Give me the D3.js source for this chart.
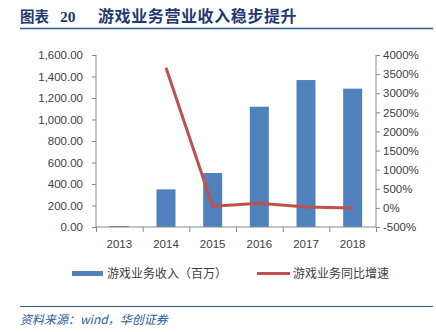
<!DOCTYPE html>
<html><head><meta charset="utf-8">
<script src="https://cdn.jsdelivr.net/npm/d3@7"></script>
<style>body{margin:0;background:#fff;}svg{display:block;}</style>
</head><body>
<svg id="c" width="436" height="332"></svg>
<script>
const years = ["2013","2014","2015","2016","2017","2018"];
const revenue = [9.3, 350, 502, 1119, 1367, 1287];
const growth = [null, 3665, 43, 123, 22, -6];
const leftTicks = [0,200,400,600,800,1000,1200,1400,1600];
const rightTicks = [-500,0,500,1000,1500,2000,2500,3000,3500,4000];

const svg = d3.select("#c");
const L = 96, R = 376, T = 55, B = 227;
const cjk = "'Noto Sans CJK SC', sans-serif";
const num = "'Liberation Sans', Arial, sans-serif";
const axisCol = "#898989", txtCol = "#404040";

// title
const tt = svg.append("text").attr("y",22).attr("fill","#1F3A6E")
  .attr("font-family",cjk).attr("font-weight","bold");
tt.append("tspan").attr("x",20).attr("font-size",14.5).text("图表");
tt.append("tspan").attr("x",60).attr("font-size",15.5)
  .attr("font-family","'Liberation Serif', serif").text("20");
tt.append("tspan").attr("x",98).attr("font-size",16).attr("letter-spacing",0.6)
  .text("游戏业务营业收入稳步提升");
svg.append("line").attr("x1",20).attr("x2",433).attr("y1",28.5).attr("y2",28.5)
  .attr("stroke","#2E5B9A").attr("stroke-width",1.5);

const xc = d3.scalePoint().domain(years).range([L,R]).padding(0.5);
const yL = d3.scaleLinear().domain([0,1600]).range([B,T]);
const yR = d3.scaleLinear().domain([-500,4000]).range([B,T]);

// bars
svg.append("g").selectAll("rect").data(years).join("rect")
  .attr("x",d=>xc(d)-9.5).attr("width",19)
  .attr("y",(d,i)=>yL(revenue[i])).attr("height",(d,i)=>B-yL(revenue[i]))
  .attr("fill","#4F81BD");

// axes
const gl = svg.append("g").attr("transform",`translate(${L},0)`)
  .call(d3.axisLeft(yL).tickValues(leftTicks).tickSize(4).tickPadding(9)
    .tickFormat(d=>d3.format(",.2f")(d)));
const gr = svg.append("g").attr("transform",`translate(${R},0)`)
  .call(d3.axisRight(yR).tickValues(rightTicks).tickSize(4).tickPadding(3)
    .tickFormat(d=>d+"%"));
const xAxisScale = d3.scaleLinear().domain([0,6]).range([L,R]);
const gx = svg.append("g").attr("transform",`translate(0,${B})`)
  .call(d3.axisBottom(xAxisScale).tickValues([0,1,2,3,4,5,6]).tickSize(5).tickFormat(""));
gx.append("g").selectAll("text").data(years).join("text")
  .attr("x",d=>xc(d)).attr("y",21).attr("text-anchor","middle").text(d=>d);

[gl,gr,gx].forEach(g=>{
  g.selectAll(".domain").attr("stroke",axisCol);
  g.selectAll(".tick line").attr("stroke",axisCol);
  g.selectAll("text").attr("fill",txtCol).attr("font-family",num).attr("font-size",11.5);
});
gl.select(".domain").attr("d",`M0,${T}V${B}`);
gr.select(".domain").attr("d",`M0,${T}V${B}`);
gx.select(".domain").attr("d",`M${L},0H${R}`);

// line
const line = d3.line().defined(d=>d[1]!==null).x(d=>xc(d[0])).y(d=>yR(d[1]));
svg.append("path").datum(years.map((y,i)=>[y,growth[i]]))
  .attr("d",line).attr("fill","none").attr("stroke","#C0504D")
  .attr("stroke-width",3).attr("stroke-linejoin","round");

// legend
svg.append("rect").attr("x",72).attr("y",271).attr("width",31).attr("height",5).attr("fill","#4F81BD");
svg.append("text").attr("x",107).attr("y",278).attr("fill",txtCol).attr("font-family",cjk)
  .attr("font-size",12).text("游戏业务收入（百万）");
svg.append("line").attr("x1",257).attr("x2",290).attr("y1",273.5).attr("y2",273.5)
  .attr("stroke","#C0504D").attr("stroke-width",3);
svg.append("text").attr("x",293).attr("y",278).attr("fill",txtCol).attr("font-family",cjk)
  .attr("font-size",12).text("游戏业务同比增速");

// footer
svg.append("line").attr("x1",20).attr("x2",433).attr("y1",306.5).attr("y2",306.5)
  .attr("stroke","#2E5B9A").attr("stroke-width",1.2);
svg.append("text").attr("x",20).attr("y",324).attr("fill","#2E5B9A").attr("font-family",cjk)
  .attr("font-style","italic").attr("font-size",12).text("资料来源：wind，华创证券");
</script>
</body></html>
